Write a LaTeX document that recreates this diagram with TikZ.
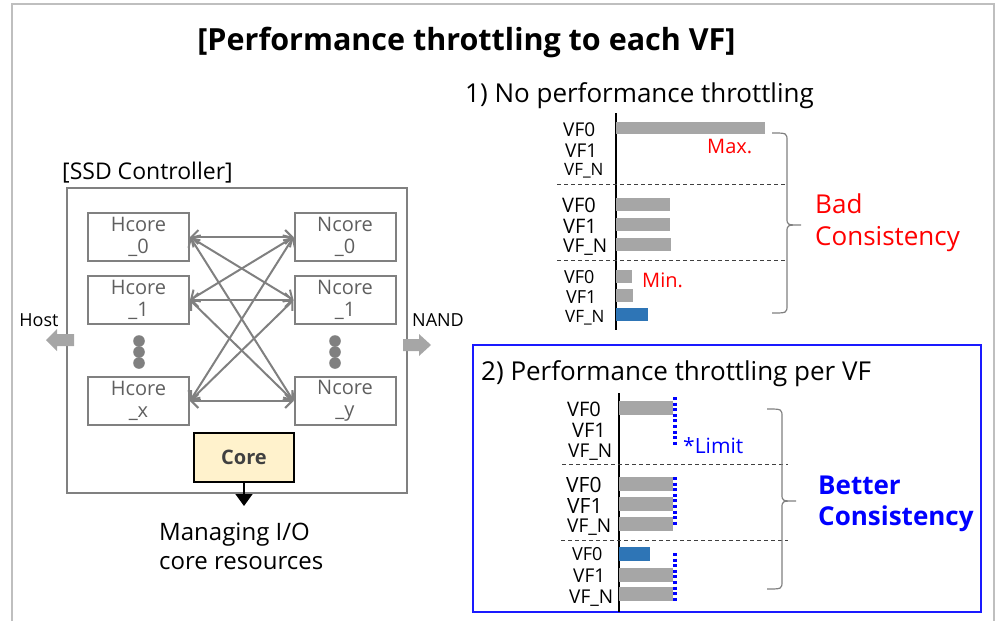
\documentclass[tikz,border=0pt]{standalone}
\usepackage{fontspec}
\setmainfont{Open Sans}
\usetikzlibrary{arrows.meta}
\definecolor{framegray}{HTML}{BFBFBF}
\definecolor{linegray}{HTML}{808080}
\definecolor{bargray}{HTML}{A6A6A6}
\definecolor{barblue}{HTML}{2E75B6}
\definecolor{coretext}{HTML}{404040}
\definecolor{corefill}{HTML}{FFF2CC}
\definecolor{boxtext}{HTML}{5F5F5F}
\definecolor{limitblue}{HTML}{0000FF}
\definecolor{boxblue}{HTML}{1A1AFF}
\definecolor{sepgray}{HTML}{404040}
\newcommand\sz[1]{\fontsize{#1}{#1}\selectfont}

\begin{document}
\begin{tikzpicture}[x=1pt,y=-1pt,
  txt/.style={inner sep=0pt, anchor=base west},
  unitbox/.style={draw=linegray, line width=2pt, minimum width=101pt, minimum height=48pt,
    inner sep=0pt, align=center, text=boxtext, font={\fontsize{20}{22}\selectfont}},
  link/.style={linegray, line width=2pt,
    {Straight Barb[length=7pt,width=14pt]}-{Straight Barb[length=7pt,width=14pt]}},
  blockarrow/.style={fill=bargray},
  bar/.style={fill=bargray},
  hibar/.style={fill=barblue},
  sep/.style={sepgray, line width=1pt, dash pattern=on 4pt off 3pt},
  axis/.style={black, line width=1.2pt},
  limit/.style={limitblue, line width=3.5pt, dash pattern=on 3pt off 2.6pt},
  curly/.style={linegray, line width=1.2pt},
]
\useasboundingbox (0,0) rectangle (995,621);

% page frame
\draw[framegray, line width=2pt] (12,621) -- (12,4) -- (994,4) -- (994,621);

% title
\node[inner sep=0pt, anchor=base, font={\sz{30.5}\bfseries}] (title) at (466.5,50)
  {[Performance throttling to each VF]};

% ---------------- SSD controller ----------------
\node[txt, font=\sz{23}] (ctrltitle) at (62,179) {[SSD Controller]};
\node[draw=linegray, line width=2pt, minimum width=340pt, minimum height=305pt, inner sep=0pt]
  (ctrl) at (237,340.5) {};

\node[unitbox] (h0) at (138.5,237) {Hcore\\\_0};
\node[unitbox] (h1) at (138.5,300) {Hcore\\\_1};
\node[unitbox] (hx) at (138.5,401) {Hcore\\\_x};
\node[unitbox] (n0) at (345,237) {Ncore\\\_0};
\node[unitbox] (n1) at (345,300) {Ncore\\\_1};
\node[unitbox] (ny) at (345,401) {Ncore\\\_y};

\foreach \a in {h0,h1,hx}
  \foreach \b in {n0,n1,ny}
    \draw[link] (\a.east) -- (\b.west);

% ellipsis dots
\foreach \y in {341,352,363} {
  \fill[linegray] (139,\y) circle (5.8pt);
  \fill[linegray] (335,\y) circle (5.8pt);
}

% host / NAND ports
\fill[blockarrow] (74,334) -- (57,334) -- (57,329) -- (46,340) -- (57,351) -- (57,346) -- (74,346) -- cycle;
\fill[blockarrow] (403,339) -- (419,339) -- (419,334) -- (431,345) -- (419,356) -- (419,351) -- (403,351) -- cycle;
\node[inner sep=0pt, anchor=base, font=\sz{18}] (host) at (39,326) {Host};
\node[inner sep=0pt, anchor=base, font=\sz{18}] (nand) at (438,326) {NAND};

% core
\node[draw=black, line width=1.5pt, fill=corefill, minimum width=100pt, minimum height=49pt,
  inner sep=0pt, text=coretext, font={\sz{20}\bfseries}] (core) at (244,457.5) {Core};
\coordinate (mgmt) at (244,506);
\draw[line width=1.5pt, -{Triangle[length=12pt,width=17pt]}] (core.south) -- (mgmt);
\node[txt, font=\sz{24}] (mg1) at (159,540) {Managing I/O};
\node[txt, font=\sz{24}] (mg2) at (159,569) {core resources};

% ---------------- 1) no throttling ----------------
\node[txt, font=\sz{26}] (head1) at (465,102) {1) No performance throttling};
\draw[axis] (616,113) -- (616,330);
\draw[sep] (557,184) -- (785,184);
\draw[sep] (557,260) -- (785,260);

\fill[bar] (616,122) rectangle (765,134);
\fill[bar] (616,198) rectangle (670,211);
\fill[bar] (616,218) rectangle (670,231);
\fill[bar] (616,238) rectangle (671,251);
\fill[bar] (616,270) rectangle (632,283);
\fill[bar] (616,289) rectangle (633,302);
\fill[hibar] (616,308) rectangle (648,321);

\node[txt, font=\sz{19}] (a1) at (563,136) {VF0};
\node[txt, font=\sz{19}] (a2) at (565,157) {VF1};
\node[txt, font=\sz{17}] (a3) at (564,175) {VF\_N};
\node[txt, font=\sz{20}] (a4) at (562,212) {VF0};
\node[txt, font=\sz{20}] (a5) at (563,233) {VF1};
\node[txt, font=\sz{19}] (a6) at (563,252) {VF\_N};
\node[txt, font=\sz{18}] (a7) at (564,283) {VF0};
\node[txt, font=\sz{18}] (a8) at (566,303) {VF1};
\node[txt, font=\sz{17}] (a9) at (565,322) {VF\_N};

\node[txt, font=\sz{20}, text=red] (max) at (707,153) {Max.};
\node[txt, font=\sz{20}, text=red] (min) at (642,287) {Min.};

\draw[curly] (772,133) .. controls (787,133) .. (787,141) -- (787,218)
  .. controls (787,225) .. (801,225) .. controls (787,225) .. (787,232)
  -- (787,305) .. controls (787,313) .. (772,313);
\node[txt, font=\sz{26}, text=red] (bad1) at (815,213) {Bad};
\node[txt, font=\sz{26}, text=red] (bad2) at (815,245) {Consistency};

% ---------------- 2) throttling per VF ----------------
\draw[boxblue, line width=2.2pt] (473,345) rectangle (981,612);
\node[txt, font=\sz{26}] (head2) at (481,380) {2) Performance throttling per VF};
\draw[axis] (619,393) -- (619,612);
\draw[sep] (562,464) -- (788,464);
\draw[sep] (561,540) -- (788,540);

\fill[bar] (619,401) rectangle (673,415);
\fill[bar] (619,477) rectangle (673,491);
\fill[bar] (619,497) rectangle (673,511);
\fill[bar] (619,517) rectangle (673,531);
\fill[hibar] (619,547) rectangle (650,561);
\fill[bar] (619,568) rectangle (673,582);
\fill[bar] (619,587) rectangle (673,601);

\draw[limit] (675,397) -- (675,447);
\draw[limit] (675,477) -- (675,527);
\draw[limit] (675,553) -- (675,603);
\node[txt, font=\sz{21}, text=limitblue] (lim) at (683,453) {*Limit};

\node[txt, font=\sz{20}] (b1) at (567,416) {VF0};
\node[txt, font=\sz{20}] (b2) at (572,437) {VF1};
\node[txt, font=\sz{19}] (b3) at (568,457) {VF\_N};
\node[txt, font=\sz{21}] (b4) at (566,492) {VF0};
\node[txt, font=\sz{21}] (b5) at (567,513) {VF1};
\node[txt, font=\sz{19}] (b6) at (567,532) {VF\_N};
\node[txt, font=\sz{18}] (b7) at (572,560) {VF0};
\node[txt, font=\sz{19}] (b8) at (573,582) {VF1};
\node[txt, font=\sz{19}] (b9) at (569,603) {VF\_N};

\draw[curly] (767,409) .. controls (782,409) .. (782,417) -- (782,494)
  .. controls (782,501) .. (796,501) .. controls (782,501) .. (782,508)
  -- (782,581) .. controls (782,589) .. (767,589);
\node[txt, font={\sz{26}\bfseries}, text=limitblue] (good1) at (818,494) {Better};
\node[txt, font={\sz{26}\bfseries}, text=limitblue] (good2) at (818,525) {Consistency};
\end{tikzpicture}
\end{document}
